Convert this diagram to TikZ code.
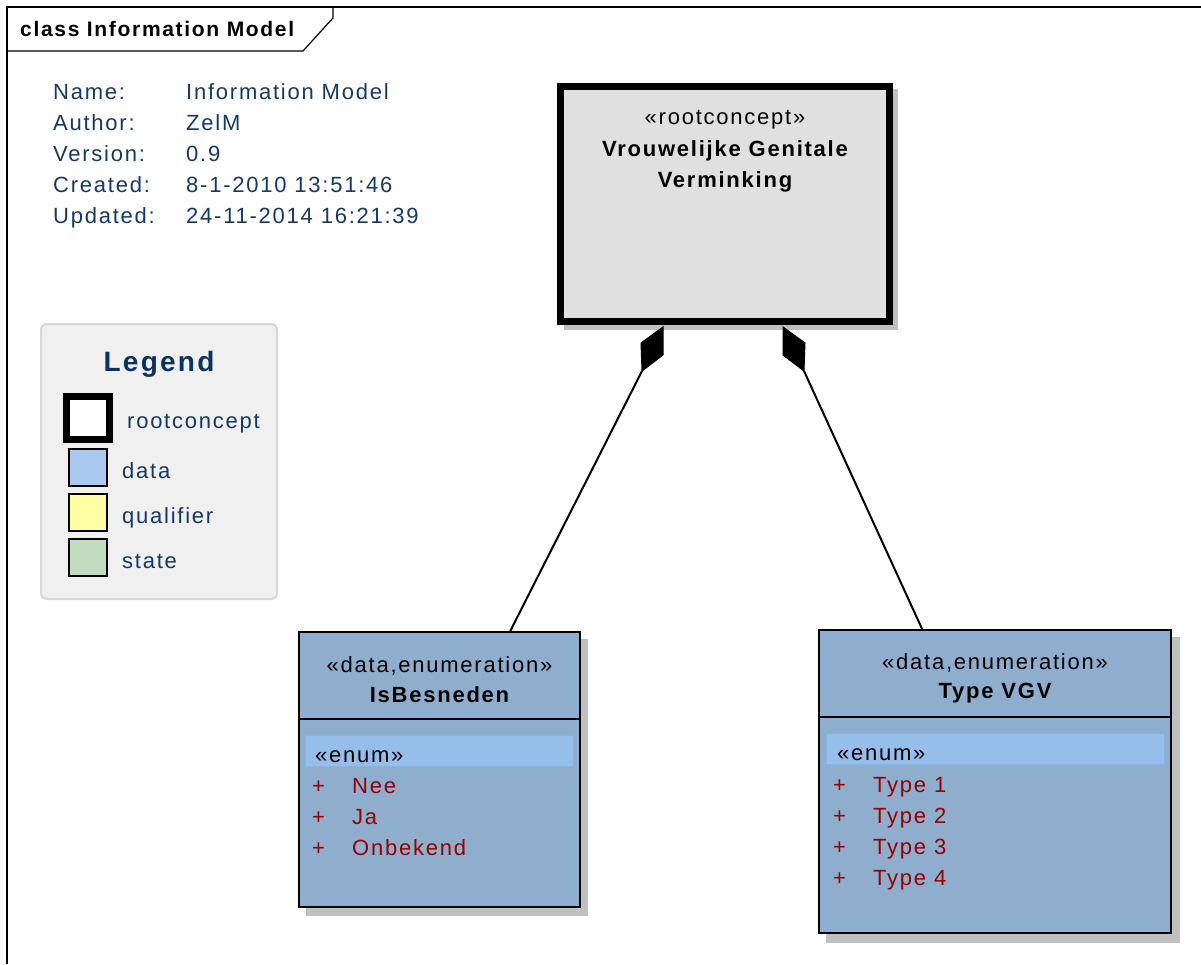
\documentclass[tikz,border=0pt]{standalone}
\usepackage{fontspec}
\setmainfont{Liberation Sans}[LetterSpace=8]
\usetikzlibrary{calc}
\definecolor{infoc}{RGB}{22,56,100}
\definecolor{legc}{RGB}{12,50,95}
\definecolor{itemc}{RGB}{150,0,0}
\definecolor{boxc}{RGB}{143,174,206}
\definecolor{hlc}{RGB}{150,190,235}
\definecolor{hlb}{RGB}{135,178,228}
\definecolor{shadc}{RGB}{192,192,192}
\definecolor{rootc}{RGB}{224,224,224}
\definecolor{legfill}{RGB}{240,240,240}
\definecolor{legborder}{RGB}{215,215,215}
\definecolor{datac}{RGB}{169,201,238}
\definecolor{qualc}{RGB}{255,255,163}
\definecolor{statec}{RGB}{194,220,194}
\tikzset{
  txt/.style={inner sep=0pt, anchor=base west, font=\fontsize{22}{26}\selectfont},
  ctxt/.style={inner sep=0pt, anchor=base, font=\fontsize{22}{26}\selectfont},
  info/.style={txt, text=infoc},
  item/.style={txt, text=itemc},
  enumbox/.style={draw=black, line width=2pt, fill=boxc, rectangle, inner sep=0pt},
  rootbox/.style={draw=black, line width=7pt, fill=rootc, rectangle, inner sep=0pt},
  legsq/.style={draw=black, line width=2pt, rectangle, inner sep=0pt, minimum width=38, minimum height=37},
  comp/.style={fill=black, draw=black, line width=1pt, line join=miter},
  conn/.style={draw=black, line width=2pt},
}
\begin{document}
\begin{tikzpicture}[x=1pt,y=-1pt]
\useasboundingbox (0,0) rectangle (1201,964);
% frame
\draw[line width=1.5pt] (7,964) -- (7,7) -- (1201,7);
\draw[line width=1.2pt] (7,51) -- (303,51) -- (333,18) -- (333,7);
\node[txt, font=\fontsize{21}{25}\selectfont\bfseries] (title) at (20,36) {class Information Model};
% info
\node[info] (l1) at (53,99) {Name:};
\node[info] (l2) at (53,130) {Author:};
\node[info] (l3) at (53,161) {Version:};
\node[info] (l4) at (53,192) {Created:};
\node[info] (l5) at (53,223) {Updated:};
\node[info] (v1) at (186,99) {Information Model};
\node[info] (v2) at (186,130) {ZelM};
\node[info] (v3) at (186,161) {0.9};
\node[info] (v4) at (186,192) {8-1-2010 13:51:46};
\node[info] (v5) at (186,223) {24-11-2014 16:21:39};
% legend
\node[draw=legborder, line width=2pt, fill=legfill, rounded corners=6pt, minimum width=236, minimum height=275, inner sep=0pt] (legend) at (159,461.5) {};
\node[ctxt, text=legc, font=\fontsize{28}{32}\selectfont\bfseries] (legtitle) at (159,371) {Legend};
\node[draw=black, line width=7pt, fill=white, minimum width=43, minimum height=43, inner sep=0pt] (lroot) at (88,418) {};
\node[legsq, fill=datac] (ldata) at (88,467.5) {};
\node[legsq, fill=qualc] (lqual) at (88,512.5) {};
\node[legsq, fill=statec] (lstate) at (88,557.5) {};
\node[info] (troot) at (127,428) {rootconcept};
\node[info] (tdata) at (122,478) {data};
\node[info] (tqual) at (122,523) {qualifier};
\node[info] (tstate) at (122,568) {state};
% root concept
\fill[shadc] (564,89) rectangle (898,330);
\node[rootbox, minimum width=329, minimum height=235] (root) at (725,204) {};
\node[ctxt] (rst) at (725,124) {«rootconcept»};
\node[ctxt, font=\fontsize{22}{26}\selectfont\bfseries] (rn1) at (725,156) {Vrouwelijke Genitale};
\node[ctxt, font=\fontsize{22}{26}\selectfont\bfseries] (rn2) at (725,187) {Verminking};
% IsBesneden
\fill[shadc] (306,639) rectangle (588,916);
\node[enumbox, minimum width=281, minimum height=275] (isb) at (439.5,769.5) {};
\draw[line width=2pt] (isb.west |- 0,719) -- (isb.east |- 0,719);
\fill[hlc, draw=hlb, line width=1pt] (305,735) rectangle (573,766);
\node[ctxt] (isbst) at (439.5,672) {«data,enumeration»};
\node[ctxt, font=\fontsize{22}{26}\selectfont\bfseries] (isbn) at (439.5,702) {IsBesneden};
\node[txt] (isbe) at (315,762) {«enum»};
\node[item] (ip1) at (312,793) {+};
\node[item] (ip2) at (312,824) {+};
\node[item] (ip3) at (312,855) {+};
\node[item] (i1) at (352,793) {Nee};
\node[item] (i2) at (352,824) {Ja};
\node[item] (i3) at (352,855) {Onbekend};
% Type VGV
\fill[shadc] (826,637) rectangle (1180,943);
\node[enumbox, minimum width=352, minimum height=303] (vgv) at (995,781.5) {};
\draw[line width=2pt] (vgv.west |- 0,717) -- (vgv.east |- 0,717);
\fill[hlc, draw=hlb, line width=1pt] (826,733) rectangle (1164,764);
\node[ctxt] (vgvst) at (995,669) {«data,enumeration»};
\node[ctxt, font=\fontsize{22}{26}\selectfont\bfseries] (vgvn) at (995,698) {Type VGV};
\node[txt] (vgve) at (837,760) {«enum»};
\node[item] (vp1) at (833,792) {+};
\node[item] (vp2) at (833,823) {+};
\node[item] (vp3) at (833,854) {+};
\node[item] (vp4) at (833,885) {+};
\node[item] (t1) at (873,792) {Type 1};
\node[item] (t2) at (873,823) {Type 2};
\node[item] (t3) at (873,854) {Type 3};
\node[item] (t4) at (873,885) {Type 4};
% composition diamonds
\coordinate (dl) at (642,371);
\coordinate (dr) at (804,371);
\fill[comp] (663,327) -- (663,355) -- (dl) -- (641,343) -- cycle;
\fill[comp] (783,327) -- (805,343) -- (dr) -- (783,355) -- cycle;
\draw[conn] (dl) -- ($(isb.north west)!0.75!(isb.north east)$);
\draw[conn] (dr) -- ($(vgv.north west)!0.294!(vgv.north east)$);
\end{tikzpicture}
\end{document}
